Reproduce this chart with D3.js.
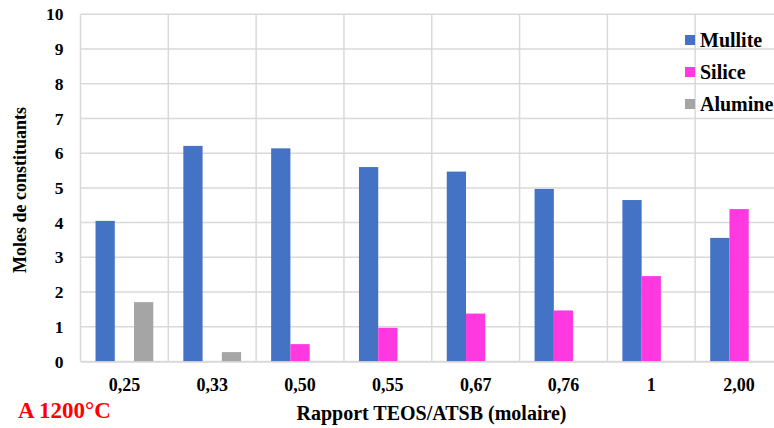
<!DOCTYPE html>
<html><head><meta charset="utf-8">
<script src="https://cdn.jsdelivr.net/npm/d3@7"></script>
<style>body{margin:0;background:#fff;overflow:hidden}svg{display:block}</style>
</head><body>
<script>
const categories = ["0,25","0,33","0,50","0,55","0,67","0,76","1","2,00"];
const seriesNames = ["Mullite","Silice","Alumine"];
const mullite = [4.05,6.21,6.14,5.60,5.47,4.97,4.65,3.56];
const silice  = [0,0,0.50,0.97,1.38,1.47,2.46,4.39];
const alumine = [1.71,0.27,0,0,0,0,0,0];
const yTicks = [0,1,2,3,4,5,6,7,8,9,10];
const colors = ["#4472C4","#FF38E0","#A5A5A5"];

const W=774,H=428;
const FF="Liberation Serif";
const svg=d3.select("body").append("svg").attr("width",W).attr("height",H)
  .attr("font-family",FF).attr("font-weight","bold");
const pL=80.5,pR=783,pT=14.3,pB=361.5;
const x=d3.scaleBand().domain(categories).range([pL,pR]).paddingInner(0).paddingOuter(0);
const y=d3.scaleLinear().domain([0,10]).range([pB,pT]);
const xs=d3.scaleBand().domain(seriesNames).range([0,x.bandwidth()]).paddingOuter(0.78).paddingInner(0);

// gridlines
const g=svg.append("g");
g.selectAll("line.h").data(yTicks).join("line")
 .attr("x1",pL).attr("x2",pR).attr("y1",d=>y(d)).attr("y2",d=>y(d))
 .attr("stroke","#D9D9D9").attr("stroke-width",1.5);
g.selectAll("line.v").data(categories.concat(["end"])).join("line")
 .attr("x1",(d,i)=>pL+i*x.bandwidth()).attr("x2",(d,i)=>pL+i*x.bandwidth())
 .attr("y1",pT).attr("y2",pB)
 .attr("stroke","#D9D9D9").attr("stroke-width",1.5);

// bars
const data=[mullite,silice,alumine];
data.forEach((arr,si)=>{
  svg.append("g").selectAll("rect").data(arr.map((v,i)=>({v,c:categories[i]})).filter(d=>d.v>0)).join("rect")
   .attr("x",d=>x(d.c)+xs(seriesNames[si]))
   .attr("width",xs.bandwidth())
   .attr("y",d=>y(d.v))
   .attr("height",d=>pB-y(d.v))
   .attr("fill",colors[si]);
});

// y axis
const ya=svg.append("g").attr("transform",`translate(${pL},0)`)
 .call(d3.axisLeft(y).tickValues(yTicks).tickSize(0).tickPadding(17));
ya.select(".domain").remove();
ya.attr("font-family",FF).attr("font-size",17.5).attr("font-weight","bold");
ya.selectAll("text").attr("fill","#000");

// x axis
const xa=svg.append("g").attr("transform",`translate(0,${pB})`)
 .call(d3.axisBottom(x).tickSize(0).tickPadding(17));
xa.attr("font-family",FF).attr("font-size",18).attr("font-weight","bold");
xa.select(".domain").attr("stroke","#D9D9D9").attr("stroke-width",1.5);
xa.selectAll("text").attr("fill","#000");

// titles
svg.append("text").attr("transform","translate(26,190) rotate(-90)")
 .attr("text-anchor","middle").attr("font-size",18)
 .text("Moles de constituants");
svg.append("text").attr("x",431.5).attr("y",420).attr("text-anchor","middle")
 .attr("font-size",20).text("Rapport TEOS/ATSB (molaire)");
svg.append("text").attr("x",18).attr("y",417.5)
 .attr("font-size",23).attr("fill","#FF0000").text("A 1200°C");

// legend
const lg=svg.append("g");
seriesNames.forEach((n,i)=>{
  const cy=40+i*32;
  lg.append("rect").attr("x",685).attr("y",cy-5).attr("width",10).attr("height",10).attr("fill",colors[i]);
  lg.append("text").attr("x",700).attr("y",cy+6.7).attr("font-size",20).text(n);
});
</script>
</body></html>
